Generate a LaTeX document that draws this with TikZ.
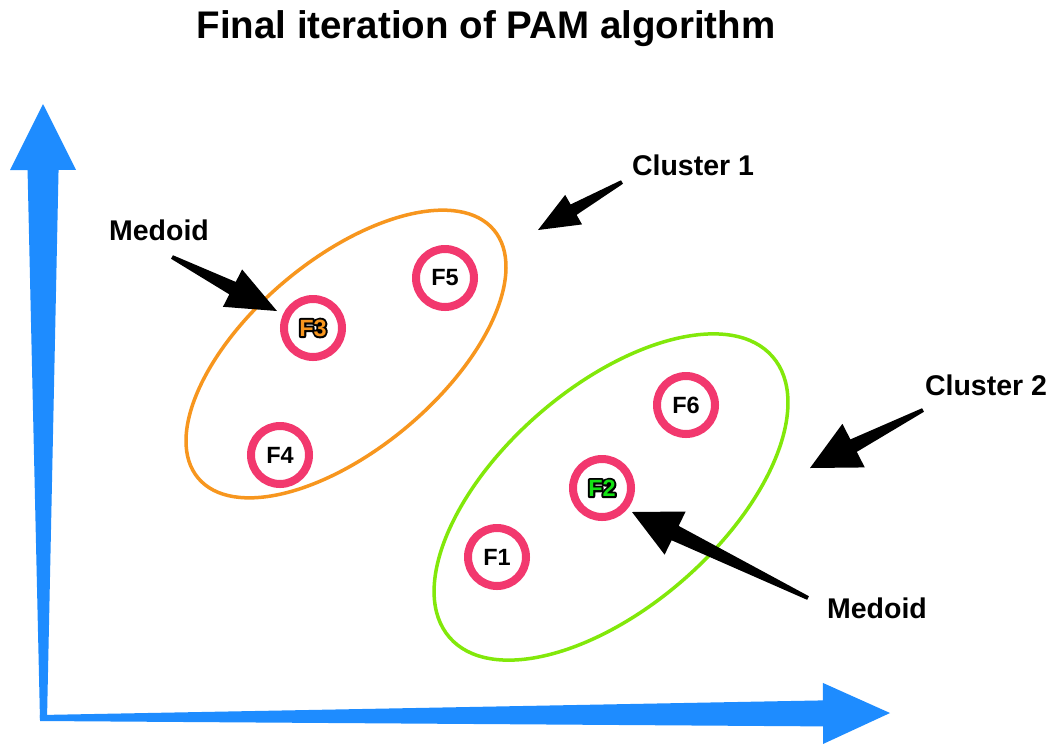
\documentclass[tikz,border=0pt]{standalone}
\usepackage{fontspec}
\setmainfont{Liberation Sans}
\usetikzlibrary{calc}

\definecolor{axisblue}{RGB}{30,140,255}
\definecolor{ringpink}{RGB}{242,56,110}
\definecolor{clusterorange}{RGB}{247,150,30}
\definecolor{clustergreen}{RGB}{130,232,10}
\definecolor{medoidorange}{RGB}{247,150,30}
\definecolor{medoidgreen}{RGB}{20,225,20}

% Tapered arrow: #1 tail, #2 tip, #3 head length, #4 head half width,
% #5 shaft half width at the head, #6 shaft half width at the tail, #7 colour
\newcommand\taperarrow[7]{%
  \coordinate (ta-h) at ($(#2)!#3!(#1)$);
  \coordinate (ta-t1) at ($(#1)!#6!90:(#2)$);
  \coordinate (ta-t2) at ($(#1)!#6!-90:(#2)$);
  \coordinate (ta-s1) at ($(ta-h)!#5!-90:(#2)$);
  \coordinate (ta-s2) at ($(ta-h)!#5!90:(#2)$);
  \coordinate (ta-w1) at ($(ta-h)!#4!-90:(#2)$);
  \coordinate (ta-w2) at ($(ta-h)!#4!90:(#2)$);
  \fill[#7] (ta-t1) -- (ta-s2) -- (ta-w2) -- (#2) -- (ta-w1) -- (ta-s1) -- (ta-t2) -- cycle;
}

% Coloured glyphs over a thick black stroked copy, giving a dark outline
\newcommand\outlined[2]{%
  \rlap{\special{pdf:literal direct 0 0 0 rg 0 0 0 RG 1 j 2 Tr 4 w}#2\special{pdf:literal direct 0 Tr}}%
  \textcolor{#1}{#2}%
}

\begin{document}
\begin{tikzpicture}[x=1pt, y=-1pt,
  lbl/.style={inner sep=0pt, text=black, font=\fontsize{28.5}{28.5}\selectfont\bfseries},
  ring/.style={circle, draw=ringpink, line width=8pt, minimum size=58pt, inner sep=0pt,
    font=\fontsize{23.5}{23.5}\selectfont\bfseries},
  cluster/.style={line width=3.5pt}]

\useasboundingbox[fill=white] (0,0) rectangle (1054,745);

% title
\node[lbl, font=\fontsize{38.5}{38.5}\selectfont\bfseries] (title) at (486,29) {Final iteration of PAM algorithm};

% axes
\coordinate (yaxis-tail) at (43.5,720);
\coordinate (yaxis-tip) at (43,104);
\coordinate (xaxis-tail) at (40,718);
\coordinate (xaxis-tip) at (890,713);
\taperarrow{yaxis-tail}{yaxis-tip}{66pt}{33pt}{15.5pt}{3.5pt}{axisblue}
\taperarrow{xaxis-tail}{xaxis-tip}{67pt}{30.5pt}{13pt}{3pt}{axisblue}

% clusters
\coordinate (c1) at (346,354);
\coordinate (c2) at (611,497);
\draw[cluster, draw=clusterorange, rotate around={40:(c1)}] (c1) ellipse [x radius=193, y radius=95];
\draw[cluster, draw=clustergreen, rotate around={41:(c2)}] (c2) ellipse [x radius=214, y radius=110];

% points; the medoids carry coloured, outlined names
\node[ring] (f5) at (445,278) {F5};
\node[ring] (f3) at (313,328) {\outlined{medoidorange}{F3}};
\node[ring] (f4) at (280,455) {F4};
\node[ring] (f6) at (686,405) {F6};
\node[ring] (f2) at (602,488) {\outlined{medoidgreen}{F2}};
\node[ring] (f1) at (497,557) {F1};

% labels
\node[lbl] (medoid1) at (159,230) {Medoid};
\node[lbl] (cluster1) at (693,165) {Cluster 1};
\node[lbl] (cluster2) at (986,385) {Cluster 2};
\node[lbl] (medoid2) at (877,608) {Medoid};

% pointer arrows
\coordinate (m1-tail) at (172,257);
\coordinate (m1-tip) at (277,311);
\coordinate (k1-tail) at (622,182);
\coordinate (k1-tip) at (538,230);
\coordinate (k2-tail) at (923,410);
\coordinate (k2-tip) at (810,468);
\coordinate (m2-tail) at (808,598);
\coordinate (m2-tip) at (632,512);
\taperarrow{m1-tail}{m1-tip}{50pt}{21pt}{7pt}{2pt}{black}
\taperarrow{k1-tail}{k1-tip}{41pt}{17pt}{6pt}{2pt}{black}
\taperarrow{k2-tail}{k2-tip}{49pt}{24.5pt}{7pt}{2pt}{black}
\taperarrow{m2-tail}{m2-tip}{48pt}{24pt}{8pt}{2pt}{black}

\end{tikzpicture}
\end{document}
